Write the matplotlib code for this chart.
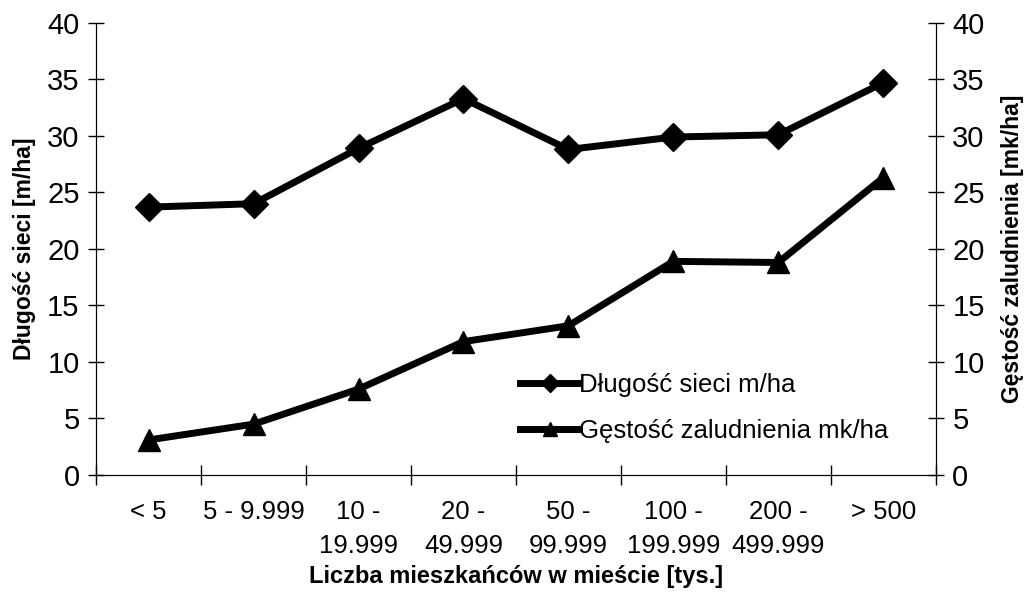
import matplotlib.pyplot as plt
import numpy as np

plt.rcParams['font.family'] = ['Liberation Sans', 'DejaVu Sans']

categories = ['< 5', '5 - 9.999', '10 -\n19.999', '20 -\n49.999', '50 -\n99.999',
              '100 -\n199.999', '200 -\n499.999', '> 500']
dlugosc = [23.7, 24.0, 28.9, 33.3, 28.8, 29.9, 30.1, 34.7]
gestosc = [3.1, 4.5, 7.6, 11.8, 13.2, 18.9, 18.8, 26.3]

fig = plt.figure(figsize=(10.35, 6.02), dpi=100)
ax = fig.add_axes([0.093, 0.211, 0.811, 0.751])
ax2 = ax.twinx()

x = np.arange(len(categories)) + 0.5
l1, = ax.plot(x, dlugosc, color='black', lw=5, marker='D', markersize=14,
              label='Długość sieci m/ha')
l2, = ax2.plot(x, gestosc, color='black', lw=5, marker='^', markersize=16,
               label='Gęstość zaludnienia mk/ha')

for a in (ax, ax2):
    a.set_ylim(0, 40)
    a.set_yticks(range(0, 41, 5))
    a.set_xlim(0, len(categories))
    a.spines['top'].set_visible(False)
    a.tick_params(axis='y', direction='inout', length=12, width=1, labelsize=21, pad=6)

ax.set_xticks(range(len(categories) + 1))
ax.set_xticklabels([])
ax.set_xticks(x, minor=True)
ax.set_xticklabels(categories, minor=True, fontsize=18.5, linespacing=1.55, va='top')
ax.tick_params(axis='x', which='major', direction='inout', length=14, width=1)
ax.tick_params(axis='x', which='minor', length=0, pad=18)

ax.set_ylabel('Długość sieci [m/ha]', fontsize=16.5, fontweight='bold', labelpad=8)
ax2.set_ylabel('Gęstość zaludnienia [mk/ha]', fontsize=16.5, fontweight='bold', labelpad=12)
ax.set_xlabel('Liczba mieszkańców w mieście [tys.]', fontsize=17, fontweight='bold', labelpad=5)

ax2.legend(handles=[l1, l2], loc='upper left', bbox_to_anchor=(0.505, 0.225),
           frameon=False, fontsize=18.5, handlelength=2.3, handletextpad=0.0,
           labelspacing=0.85, markerscale=0.65, borderpad=0, borderaxespad=0)

fig.savefig('out.png', dpi=100)
